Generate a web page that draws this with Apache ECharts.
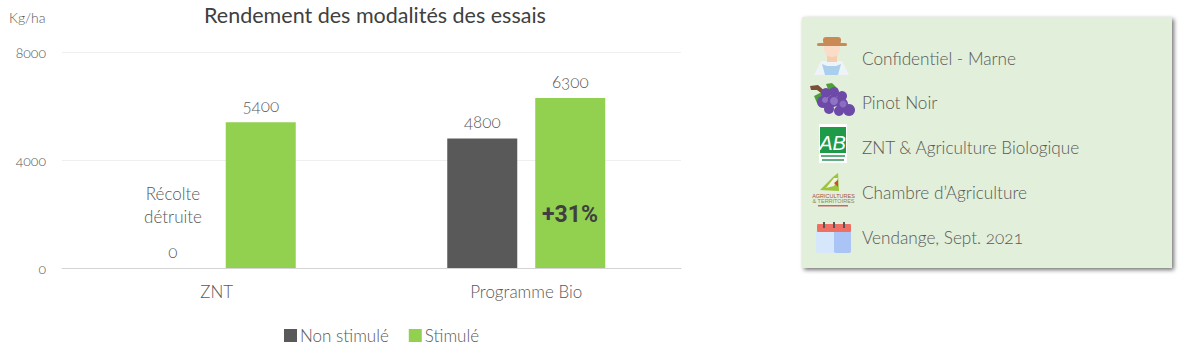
<!DOCTYPE html>
<html><head><meta charset="utf-8">
<script src="https://cdn.jsdelivr.net/npm/echarts@6/dist/echarts.min.js"></script>
<style>
html,body{margin:0;padding:0;background:#fff}
#c{width:1192px;height:352px}
#c svg text{font-variant-numeric:oldstyle-nums;font-feature-settings:"onum" 1}
#c svg text[style*="Roboto"]{font-variant-numeric:lining-nums;font-feature-settings:"lnum" 1}
</style></head><body><div id="c"></div>
<script>
const categories = ['ZNT', 'Programme Bio'];
const nonStimule = [0, 4800];
const stimule = [5400, 6300];
const yTicks = [0, 4000, 8000];
const infoLines = ['Confidentiel - Marne', 'Pinot Noir', 'ZNT & Agriculture Biologique', 'Chambre d’Agriculture', 'Vendange, Sept. 2021'];
const titleText = 'Rendement des modalités des essais';
const unitText = 'Kg/ha';
const noteLines = ['Récolte', 'détruite'];
const gainText = '+31%';

const FONT = 'Lato';
const chart = echarts.init(document.getElementById('c'), null, {renderer: 'svg', width: 1192, height: 352});

const txt = (x, y, text, size, color, align, extra) => ({
  type: 'text', x, y, z: 100, silent: true,
  style: Object.assign({text, fontFamily: FONT, fontWeight: 300, fontSize: size, fill: color, align: align || 'left', verticalAlign: 'middle'}, extra || {})
});
const rect = (x, y, w, h, fill, r) => ({type: 'rect', shape: {x, y, width: w, height: h, r: r || 0}, style: {fill}, silent: true});
const circ = (cx, cy, r, fill) => ({type: 'circle', shape: {cx, cy, r}, style: {fill}, silent: true});
const poly = (points, fill) => ({type: 'polygon', shape: {points}, style: {fill}, silent: true});

const farmer = [
  poly([[814,75],[821,61],[842,61],[849,75]], '#eef3f8'),
  poly([[822,64],[825,75],[838,75],[841,64],[836,66],[827,66]], '#a9cfec'),
  rect(827,53,10,9,'#f6cdb0'),
  circ(832,49,8,'#fbdcc8'),
  rect(823,37,18,7,'#c98a55',3),
  rect(817,43,30,3,'#c98a55',1.5)
];
const grapes = [
  poly([[810,86],[818,85],[827,93],[825,96],[817,90],[811,90]], '#7a5037'),
  poly([[826,84],[832,83],[838,89],[830,94]], '#4f9e3c'),
  poly([[814,96],[822,92],[824,100],[817,103]], '#4f9e3c')
].concat([[826,93,5],[834,92,5],[842,96,5],[823,102,6],[833,101,6],[842,104,6],[829,109,5],[839,111,5],[849,110,6]]
  .map(p => circ(p[0], p[1], p[2], '#6d4aa8')), [circ(834,101,4,'#9073c4'), circ(825,100,3,'#9073c4'), circ(843,104,3.5,'#8a6cc0')]);
const ab = [
  rect(819,124,28,39,'#ffffff'),
  rect(820,127,26,26,'#1f9a49'),
  {type: 'text', x: 832.5, y: 143, silent: true, style: {text: 'AB', fontFamily: 'Liberation Sans', fontStyle: 'italic', fontSize: 20, fill: '#fff', align: 'center', verticalAlign: 'middle'}},
  rect(821,155,24,2,'#5fae80'), rect(822,159,22,2,'#5fae80')
];
const chambre = [
  poly([[820,190],[833,177],[838,173],[839,191]], '#9cc43c'),
  poly([[826,188],[834,178],[838,178],[834,186]], '#f2f2e0'),
  poly([[834,183],[838,180],[838,187]], '#c9502e'),
  {type: 'text', x: 833.5, y: 196, silent: true, style: {text: 'AGRICULTURES', fontFamily: 'Liberation Sans', fontSize: 5.5, fill: '#a8503c', align: 'center', verticalAlign: 'middle'}},
  {type: 'text', x: 833.5, y: 201, silent: true, style: {text: '& TERRITOIRES', fontFamily: 'Liberation Sans', fontSize: 5.5, fill: '#8f8a50', align: 'center', verticalAlign: 'middle'}},
  rect(818,205,30,1.5,'#c26a6a')
];
const calendar = [
  rect(816,230,35,23,'#d6e6fb',2),
  rect(834,230,17,23,'#a9c4f5',2),
  rect(817,224,34,8,'#ee7064',1),
  rect(823,222,2,6,'#555'), rect(833,222,2,6,'#555'), rect(843,222,2,6,'#555')
];

chart.setOption({
  animation: false,
  textStyle: {fontFamily: FONT},
  grid: {left: 62, top: 52, width: 619, height: 216, containLabel: false},
  legend: {
    left: 279, top: 322, itemWidth: 13, itemHeight: 13, itemGap: 20, icon: 'rect',
    textStyle: {fontFamily: FONT, fontWeight: 300, fontSize: 17, color: '#595959', padding: [0, 0, 0, -2]},
    data: ['Non stimulé', 'Stimulé']
  },
  xAxis: {
    type: 'category', data: categories,
    axisLine: {lineStyle: {color: '#d4d4d4', width: 1}}, axisTick: {show: false},
    axisLabel: {margin: 15, fontFamily: FONT, fontWeight: 300, fontSize: 17, color: '#595959'}
  },
  yAxis: {
    type: 'value', min: yTicks[0], max: yTicks[2], interval: yTicks[1],
    axisLine: {show: false}, axisTick: {show: false},
    splitLine: {lineStyle: {color: '#efefef', width: 1}},
    axisLabel: {margin: 16, fontFamily: FONT, fontWeight: 300, fontSize: 14, color: '#595959', formatter: v => String(v)}
  },
  series: [
    {name: 'Non stimulé', type: 'bar', data: nonStimule, barWidth: 70, barGap: '25.7%', itemStyle: {color: '#595959'},
     label: {show: true, position: 'top', distance: 8, fontFamily: FONT, fontWeight: 300, fontSize: 17, color: '#595959', formatter: p => String(p.value)}},
    {name: 'Stimulé', type: 'bar', data: stimule, barWidth: 70, itemStyle: {color: '#92D050'},
     label: {show: true, position: 'top', distance: 8, fontFamily: FONT, fontWeight: 300, fontSize: 17, color: '#595959', formatter: p => String(p.value)}}
  ],
  graphic: {elements: [
    txt(375, 15, titleText, 21.5, '#404040', 'center', {fontWeight: 400}),
    txt(9, 17, unitText, 14, '#595959'),
    txt(173, 193, noteLines[0], 17, '#595959', 'center'),
    txt(173, 216, noteLines[1], 17, '#595959', 'center'),
    txt(570, 214, gainText, 23, '#404040', 'center', {fontFamily: 'Roboto', fontWeight: 700}),
    {type: 'rect', shape: {x: 802, y: 17, width: 370, height: 251},
     style: {fill: '#E2EFDA', shadowColor: 'rgba(0,0,0,0.55)', shadowBlur: 4, shadowOffsetX: 2, shadowOffsetY: 2}, silent: true},
    ...infoLines.map((t, i) => txt(862, [58, 102, 147, 192, 237][i], t, 17.2, '#595959')),
    ...farmer, ...grapes, ...ab, ...chambre, ...calendar
  ]}
});
</script></body></html>
